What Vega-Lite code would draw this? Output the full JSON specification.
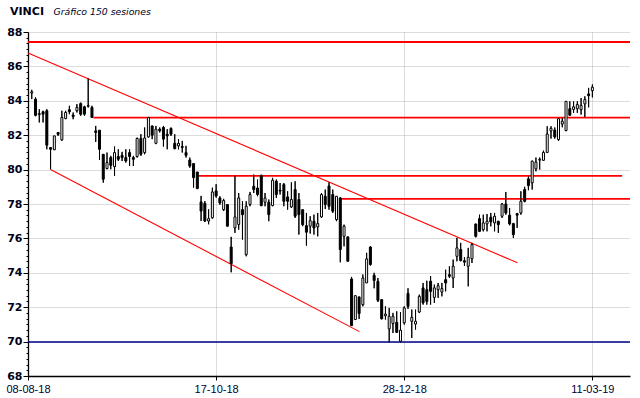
{
  "$schema": "https://vega.github.io/schema/vega-lite/v6.json",
  "width": 602,
  "height": 344,
  "autosize": "none",
  "padding": {"left": 28, "top": 32, "right": 10, "bottom": 22},
  "background": "white",
  "config": {"view": {"stroke": null}},
  "title": {"text": "VINCI", "anchor": "start", "frame": "group", "dx": -18, "dy": 19, "font": "DejaVu Sans", "fontSize": 11, "fontWeight": "bold", "color": "#00001a", "baseline": "alphabetic", "offset": 0},
  "resolve": {"axis": {"x": "independent", "y": "independent"}},
  "datasets": {
    "candles": [
      {"i":1,"o":84.45,"h":84.64,"l":84.10,"c":84.52},
      {"i":2,"o":84.10,"h":84.20,"l":83.10,"c":83.15},
      {"i":3,"o":83.25,"h":83.51,"l":82.74,"c":83.20},
      {"i":4,"o":83.36,"h":83.42,"l":82.74,"c":83.22},
      {"i":5,"o":83.42,"h":83.51,"l":81.18,"c":81.42},
      {"i":6,"o":81.28,"h":81.30,"l":80.02,"c":81.18},
      {"i":7,"o":81.15,"h":81.96,"l":81.15,"c":81.96},
      {"i":8,"o":82.16,"h":82.16,"l":81.96,"c":82.05},
      {"i":9,"o":81.73,"h":83.42,"l":81.67,"c":83.03},
      {"i":10,"o":82.97,"h":83.42,"l":82.93,"c":83.32},
      {"i":11,"o":83.48,"h":83.71,"l":83.22,"c":83.36},
      {"i":12,"o":83.17,"h":83.32,"l":82.93,"c":83.09},
      {"i":13,"o":83.42,"h":83.81,"l":83.32,"c":83.61},
      {"i":14,"o":83.84,"h":83.90,"l":83.13,"c":83.22},
      {"i":15,"o":83.65,"h":83.71,"l":83.13,"c":83.22},
      {"i":16,"o":83.68,"h":85.30,"l":83.61,"c":83.72},
      {"i":17,"o":83.61,"h":83.71,"l":83.03,"c":83.03},
      {"i":18,"o":82.25,"h":82.54,"l":81.61,"c":82.16},
      {"i":19,"o":82.29,"h":82.29,"l":80.56,"c":81.18},
      {"i":20,"o":80.89,"h":80.89,"l":79.24,"c":79.44},
      {"i":21,"o":80.06,"h":80.99,"l":80.02,"c":80.41},
      {"i":22,"o":80.70,"h":80.80,"l":80.02,"c":80.25},
      {"i":23,"o":80.17,"h":81.34,"l":79.63,"c":80.99},
      {"i":24,"o":80.76,"h":81.18,"l":80.50,"c":80.60},
      {"i":25,"o":80.83,"h":81.03,"l":80.50,"c":80.70},
      {"i":26,"o":80.70,"h":81.18,"l":80.41,"c":80.50},
      {"i":27,"o":80.99,"h":81.18,"l":80.21,"c":80.76},
      {"i":28,"o":80.70,"h":80.80,"l":80.21,"c":80.60},
      {"i":29,"o":80.76,"h":81.86,"l":80.70,"c":81.81},
      {"i":30,"o":81.81,"h":82.06,"l":80.80,"c":80.89},
      {"i":31,"o":80.99,"h":82.45,"l":80.89,"c":81.84},
      {"i":32,"o":81.90,"h":83.03,"l":81.86,"c":83.03},
      {"i":33,"o":82.54,"h":82.54,"l":81.77,"c":82.00},
      {"i":34,"o":81.53,"h":82.54,"l":81.48,"c":82.35},
      {"i":35,"o":82.35,"h":82.45,"l":82.16,"c":82.25},
      {"i":36,"o":82.45,"h":82.54,"l":81.34,"c":81.77},
      {"i":37,"o":82.06,"h":82.35,"l":81.18,"c":81.96},
      {"i":38,"o":82.39,"h":82.45,"l":81.96,"c":82.06},
      {"i":39,"o":81.53,"h":82.06,"l":81.18,"c":81.22},
      {"i":40,"o":81.38,"h":81.77,"l":81.18,"c":81.53},
      {"i":41,"o":81.34,"h":81.67,"l":80.99,"c":81.29},
      {"i":42,"o":80.99,"h":81.38,"l":80.70,"c":80.83},
      {"i":43,"o":80.56,"h":80.70,"l":80.11,"c":80.21},
      {"i":44,"o":80.35,"h":80.35,"l":78.95,"c":79.53},
      {"i":45,"o":79.86,"h":79.86,"l":78.89,"c":78.89},
      {"i":46,"o":78.12,"h":78.47,"l":77.01,"c":77.59},
      {"i":47,"o":78.04,"h":78.17,"l":76.95,"c":77.01},
      {"i":48,"o":77.01,"h":77.69,"l":76.82,"c":77.15},
      {"i":49,"o":77.20,"h":78.95,"l":77.15,"c":78.70},
      {"i":50,"o":78.76,"h":79.15,"l":78.37,"c":78.47},
      {"i":51,"o":78.35,"h":78.45,"l":77.96,"c":78.06},
      {"i":52,"o":77.67,"h":78.30,"l":77.60,"c":78.20},
      {"i":53,"o":77.97,"h":78.00,"l":76.70,"c":76.71},
      {"i":54,"o":75.50,"h":76.09,"l":74.03,"c":74.53},
      {"i":55,"o":76.61,"h":79.65,"l":76.32,"c":77.25},
      {"i":56,"o":76.81,"h":78.64,"l":76.51,"c":78.35},
      {"i":57,"o":77.67,"h":78.16,"l":75.93,"c":77.38},
      {"i":58,"o":75.06,"h":78.16,"l":74.96,"c":77.87},
      {"i":59,"o":77.97,"h":78.70,"l":77.87,"c":78.55},
      {"i":60,"o":79.03,"h":79.71,"l":78.64,"c":78.84},
      {"i":61,"o":78.93,"h":79.42,"l":78.45,"c":78.55},
      {"i":62,"o":79.65,"h":79.71,"l":77.87,"c":77.91},
      {"i":63,"o":78.10,"h":78.64,"l":77.87,"c":78.35},
      {"i":64,"o":78.10,"h":78.26,"l":77.00,"c":77.38},
      {"i":65,"o":77.91,"h":79.52,"l":77.87,"c":79.38},
      {"i":66,"o":79.32,"h":79.42,"l":78.35,"c":78.55},
      {"i":67,"o":78.80,"h":79.22,"l":78.55,"c":78.75},
      {"i":68,"o":79.13,"h":79.22,"l":77.87,"c":78.16},
      {"i":69,"o":78.41,"h":78.74,"l":77.67,"c":78.16},
      {"i":70,"o":77.83,"h":79.26,"l":77.77,"c":78.26},
      {"i":71,"o":78.84,"h":79.32,"l":77.19,"c":77.29},
      {"i":72,"o":78.26,"h":78.64,"l":76.22,"c":77.38},
      {"i":73,"o":77.67,"h":77.67,"l":76.71,"c":76.80},
      {"i":74,"o":76.74,"h":77.48,"l":75.58,"c":76.36},
      {"i":75,"o":76.71,"h":77.29,"l":76.28,"c":77.03},
      {"i":76,"o":77.00,"h":77.38,"l":76.22,"c":76.61},
      {"i":77,"o":76.67,"h":77.48,"l":76.12,"c":76.86},
      {"i":78,"o":77.25,"h":78.64,"l":77.19,"c":78.55},
      {"i":79,"o":78.45,"h":78.84,"l":77.71,"c":77.97},
      {"i":80,"o":79.05,"h":79.26,"l":77.67,"c":77.87},
      {"i":81,"o":78.55,"h":78.84,"l":77.48,"c":77.58},
      {"i":82,"o":77.09,"h":78.45,"l":77.00,"c":78.45},
      {"i":83,"o":78.35,"h":78.40,"l":74.61,"c":75.35},
      {"i":84,"o":76.12,"h":76.80,"l":75.54,"c":76.71},
      {"i":85,"o":76.09,"h":76.09,"l":74.67,"c":74.67},
      {"i":86,"o":73.64,"h":73.76,"l":70.93,"c":70.93},
      {"i":87,"o":71.28,"h":72.67,"l":71.28,"c":72.67},
      {"i":88,"o":72.60,"h":72.60,"l":71.32,"c":71.63},
      {"i":89,"o":72.15,"h":73.90,"l":72.05,"c":73.70},
      {"i":90,"o":73.41,"h":75.16,"l":73.41,"c":74.81},
      {"i":91,"o":75.50,"h":75.54,"l":74.42,"c":74.48},
      {"i":92,"o":73.85,"h":74.00,"l":73.10,"c":73.55},
      {"i":93,"o":73.50,"h":73.70,"l":72.30,"c":72.40},
      {"i":94,"o":72.44,"h":72.44,"l":71.30,"c":71.32},
      {"i":95,"o":71.50,"h":72.05,"l":71.28,"c":71.60},
      {"i":96,"o":70.74,"h":71.96,"l":69.96,"c":71.47},
      {"i":97,"o":71.05,"h":71.67,"l":70.50,"c":71.47},
      {"i":98,"o":71.12,"h":71.76,"l":70.50,"c":70.54},
      {"i":99,"o":70.02,"h":71.71,"l":69.96,"c":70.66},
      {"i":100,"o":71.09,"h":72.05,"l":70.99,"c":71.96},
      {"i":101,"o":72.80,"h":73.10,"l":71.90,"c":72.05},
      {"i":102,"o":71.18,"h":71.86,"l":70.21,"c":71.41},
      {"i":103,"o":71.02,"h":71.86,"l":70.70,"c":71.18},
      {"i":104,"o":71.72,"h":72.73,"l":71.66,"c":72.63},
      {"i":105,"o":73.12,"h":73.41,"l":72.15,"c":72.25},
      {"i":106,"o":73.02,"h":73.54,"l":72.15,"c":72.34},
      {"i":107,"o":73.51,"h":73.80,"l":72.15,"c":72.92},
      {"i":108,"o":72.57,"h":73.31,"l":72.25,"c":73.12},
      {"i":109,"o":73.02,"h":73.41,"l":72.54,"c":73.25},
      {"i":110,"o":72.88,"h":73.41,"l":72.63,"c":73.08},
      {"i":111,"o":73.60,"h":74.18,"l":72.92,"c":73.41},
      {"i":112,"o":73.89,"h":74.38,"l":73.70,"c":73.80},
      {"i":113,"o":73.70,"h":74.77,"l":73.12,"c":74.38},
      {"i":114,"o":74.96,"h":76.03,"l":74.67,"c":75.45},
      {"i":115,"o":75.35,"h":75.74,"l":74.67,"c":74.71},
      {"i":116,"o":74.70,"h":74.90,"l":74.40,"c":74.62},
      {"i":117,"o":74.38,"h":75.45,"l":73.21,"c":74.90},
      {"i":118,"o":74.82,"h":75.74,"l":74.57,"c":75.64},
      {"i":119,"o":76.84,"h":76.84,"l":76.06,"c":76.12},
      {"i":120,"o":77.15,"h":77.38,"l":76.37,"c":76.41},
      {"i":121,"o":76.51,"h":77.38,"l":76.41,"c":76.90},
      {"i":122,"o":76.84,"h":77.42,"l":76.41,"c":77.00},
      {"i":123,"o":77.23,"h":77.48,"l":76.70,"c":76.96},
      {"i":124,"o":76.90,"h":77.48,"l":76.41,"c":77.29},
      {"i":125,"o":77.00,"h":77.00,"l":76.32,"c":76.80},
      {"i":126,"o":77.29,"h":78.06,"l":77.19,"c":78.00},
      {"i":127,"o":78.00,"h":78.70,"l":77.38,"c":77.48},
      {"i":128,"o":77.35,"h":77.77,"l":76.76,"c":76.84},
      {"i":129,"o":76.86,"h":76.90,"l":76.03,"c":76.22},
      {"i":130,"o":77.44,"h":77.48,"l":76.61,"c":77.35},
      {"i":131,"o":77.48,"h":78.74,"l":77.38,"c":78.16},
      {"i":132,"o":78.84,"h":79.00,"l":78.10,"c":78.16},
      {"i":133,"o":79.46,"h":79.60,"l":78.80,"c":79.07},
      {"i":134,"o":79.23,"h":80.52,"l":78.84,"c":80.49},
      {"i":135,"o":80.04,"h":80.70,"l":79.90,"c":80.44},
      {"i":136,"o":80.55,"h":80.70,"l":80.00,"c":80.60},
      {"i":137,"o":80.54,"h":81.10,"l":80.50,"c":81.00},
      {"i":138,"o":81.00,"h":82.52,"l":80.97,"c":82.07},
      {"i":139,"o":82.25,"h":82.52,"l":81.80,"c":82.40},
      {"i":140,"o":82.30,"h":82.45,"l":81.80,"c":81.90},
      {"i":141,"o":81.74,"h":83.00,"l":81.68,"c":82.96},
      {"i":142,"o":82.65,"h":83.00,"l":82.46,"c":82.81},
      {"i":143,"o":82.27,"h":83.97,"l":82.23,"c":83.97},
      {"i":144,"o":83.54,"h":83.97,"l":83.16,"c":83.16},
      {"i":145,"o":83.50,"h":83.97,"l":83.30,"c":83.65},
      {"i":146,"o":83.54,"h":83.97,"l":83.30,"c":83.78},
      {"i":147,"o":83.49,"h":84.16,"l":83.20,"c":83.74},
      {"i":148,"o":83.82,"h":84.26,"l":83.04,"c":84.07},
      {"i":149,"o":84.40,"h":84.75,"l":83.62,"c":84.30},
      {"i":150,"o":84.59,"h":84.95,"l":84.20,"c":84.79}
    ],
    "levels": [
      {"p":87.42,"s1":0,"s2":160},
      {"p":83.02,"s1":17.4,"s2":160},
      {"p":79.63,"s1":45.3,"s2":157.9},
      {"p":78.30,"s1":83,"s2":160}
    ],
    "support": [
      {"p":69.98,"s1":0,"s2":160}
    ],
    "trends": [
      {"s1":0,"p1":86.78,"s2":130.1,"p2":74.58},
      {"s1":6,"p1":80.0,"s2":88.1,"p2":70.58}
    ]
  },
  "layer": [
    {
      "data": {"name": "candles"},
      "mark": {"type": "rule", "color": "#000000", "strokeWidth": 1},
      "encoding": {
        "x": {"field": "i", "type": "quantitative",
          "scale": {"domain": [0, 160], "nice": false, "zero": false, "padding": 0},
          "axis": {
            "values": [0, 50, 100, 150],
            "labelExpr": "datum.value == 0 ? '08-08-18' : datum.value == 50 ? '17-10-18' : datum.value == 100 ? '28-12-18' : '11-03-19'",
            "title": null,
            "labelFont": "Liberation Sans", "labelFontSize": 11, "labelColor": "#000033",
            "labelPadding": 3, "labelFlush": false, "labelOverlap": false, "labelBound": false,
            "tickSize": 4, "tickColor": "#000000", "tickWidth": 1,
            "domainColor": "#000000", "domainWidth": 1.3,
            "grid": true, "gridColor": "#b8b8b8", "gridDash": [1, 1], "gridWidth": 1
          }
        },
        "y": {"field": "l", "type": "quantitative",
          "scale": {"domain": [68, 88], "nice": false, "zero": false, "padding": 0},
          "axis": {
            "values": [68,68.3333,68.6667,69,69.3333,69.6667,70,70.3333,70.6667,71,71.3333,71.6667,72,72.3333,72.6667,73,73.3333,73.6667,74,74.3333,74.6667,75,75.3333,75.6667,76,76.3333,76.6667,77,77.3333,77.6667,78,78.3333,78.6667,79,79.3333,79.6667,80,80.3333,80.6667,81,81.3333,81.6667,82,82.3333,82.6667,83,83.3333,83.6667,84,84.3333,84.6667,85,85.3333,85.6667,86,86.3333,86.6667,87,87.3333,87.6667,88],
            "labelExpr": "abs(datum.value/2 - round(datum.value/2)) < 0.01 ? format(datum.value, 'd') : ''",
            "labelFont": "DejaVu Sans", "labelFontSize": 11, "labelFontWeight": "bold", "labelColor": "#00001a",
            "labelPadding": 1, "labelOverlap": false, "labelBound": false,
            "tickSize": {"condition": {"test": "abs(datum.value/2 - round(datum.value/2)) < 0.01", "value": 5}, "value": 2},
            "tickColor": "#000000", "tickWidth": 1,
            "domainColor": "#000000", "domainWidth": 1.3,
            "grid": true, "gridColor": "#b8b8b8", "gridDash": [1, 1], "gridWidth": 1,
            "gridOpacity": {"condition": {"test": "abs(datum.value/2 - round(datum.value/2)) < 0.01", "value": 1}, "value": 0},
            "title": "Gráfico 150 sesiones", "titleAngle": 0, "titleAlign": "left", "titleBaseline": "alphabetic",
            "titleX": 25, "titleY": -18, "titleFont": "DejaVu Sans", "titleFontStyle": "italic", "titleFontWeight": "normal",
            "titleFontSize": 9.3, "titleColor": "#00001a"
          }
        },
        "y2": {"field": "h"}
      }
    },
    {
      "data": {"name": "levels"},
      "mark": {"type": "rule", "color": "#ff0000", "strokeWidth": 1.8},
      "encoding": {
        "x": {"field": "s1", "type": "quantitative", "axis": null},
        "x2": {"field": "s2"},
        "y": {"field": "p", "type": "quantitative", "axis": null}
      }
    },
    {
      "data": {"name": "support"},
      "mark": {"type": "rule", "color": "#00008b", "strokeWidth": 1.4},
      "encoding": {
        "x": {"field": "s1", "type": "quantitative", "axis": null},
        "x2": {"field": "s2"},
        "y": {"field": "p", "type": "quantitative", "axis": null}
      }
    },
    {
      "data": {"name": "trends"},
      "mark": {"type": "rule", "color": "#ff0000", "strokeWidth": 1.1},
      "encoding": {
        "x": {"field": "s1", "type": "quantitative", "axis": null},
        "x2": {"field": "s2"},
        "y": {"field": "p1", "type": "quantitative", "axis": null},
        "y2": {"field": "p2"}
      }
    },
    {
      "data": {"name": "candles"},
      "mark": {"type": "rule", "color": "#000000", "strokeWidth": 1},
      "encoding": {
        "x": {"field": "i", "type": "quantitative", "axis": null},
        "y": {"field": "l", "type": "quantitative", "axis": null},
        "y2": {"field": "h"}
      }
    },
    {
      "data": {"name": "candles"},
      "mark": {"type": "bar", "size": 2, "stroke": "#000000", "strokeWidth": 1},
      "encoding": {
        "x": {"field": "i", "type": "quantitative", "axis": null},
        "y": {"field": "o", "type": "quantitative", "axis": null},
        "y2": {"field": "c"},
        "fill": {"condition": {"test": "datum.c >= datum.o", "value": "#ffffff"}, "value": "#000000"}
      }
    }
  ]
}
